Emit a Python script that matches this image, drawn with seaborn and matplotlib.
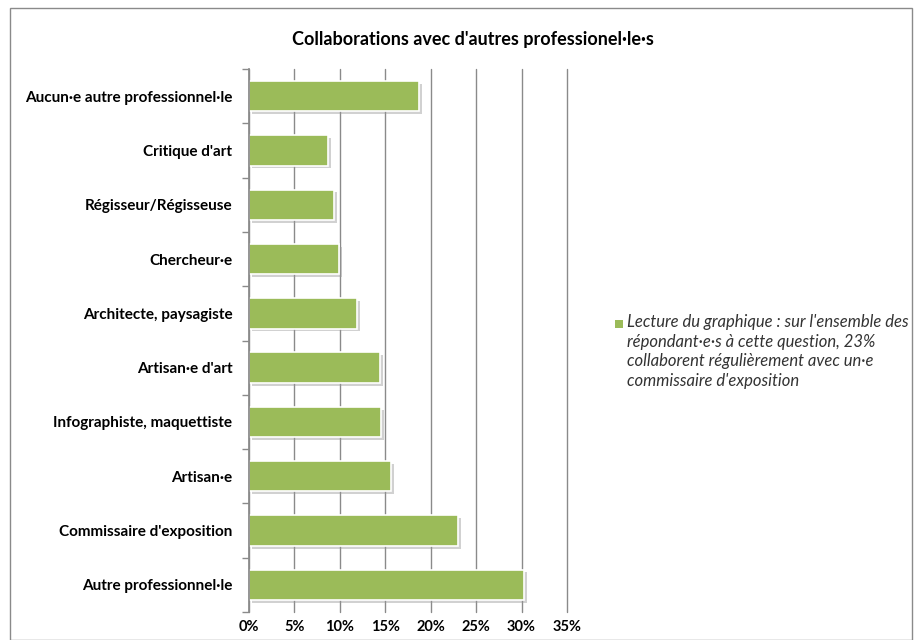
import matplotlib
matplotlib.use("Agg")
import matplotlib.pyplot as plt
import matplotlib.patheffects as pe
from matplotlib.patches import Rectangle
from matplotlib.ticker import FuncFormatter, MultipleLocator
import seaborn as sns
import pandas as pd
import numpy as np

categories = [
    "Aucun·e autre professionnel·le",
    "Critique d'art",
    "Régisseur/Régisseuse",
    "Chercheur·e",
    "Architecte, paysagiste",
    "Artisan·e d'art",
    "Infographiste, maquettiste",
    "Artisan·e",
    "Commissaire d'exposition",
    "Autre professionnel·le",
]
values = [18.7, 8.7, 9.4, 9.9, 11.9, 14.4, 14.5, 15.6, 23.0, 30.3]
title = "Collaborations avec d'autres professionel·le·s"
legend_text = ("Lecture du graphique : sur l'ensemble des\n"
               "répondant·e·s à cette question, 23%\n"
               "collaborent régulièrement avec un·e\n"
               "commissaire d'exposition")

df = pd.DataFrame({"cat": categories, "val": values})

sns.set_theme(style="white")
plt.rcParams["font.family"] = ["Lato", "DejaVu Sans"]

fig = plt.figure(figsize=(9.21, 6.4), dpi=100)
ax = fig.add_axes([249/921, 1 - 612/640, (567-249)/921, (612-69)/640])

green = "#9BBB59"
sns.barplot(data=df, x="val", y="cat", order=categories, color=green,
            width=0.56, ax=ax, saturation=1, edgecolor="white", linewidth=1.2)
for p in ax.patches:
    p.set_path_effects([pe.SimplePatchShadow(offset=(2, -2), shadow_rgbFace="#999999", alpha=0.45),
                        pe.Normal()])

ax.set_xlim(0, 35)
ax.set_ylim(len(categories) - 0.5, -0.5)
ax.xaxis.set_major_locator(MultipleLocator(5))
ax.xaxis.set_major_formatter(FuncFormatter(lambda v, p: f"{int(v)}%"))
ax.grid(axis="x", color="#8a8a8a", linewidth=1)
for gl in ax.get_xgridlines():
    gl.set_clip_on(False)
ax.set_axisbelow(True)
ax.set_xlabel("")
ax.set_ylabel("")
for s in ["top", "right", "bottom"]:
    ax.spines[s].set_visible(False)
ax.spines["left"].set_color("#8a8a8a")
ax.tick_params(axis="y", length=0, pad=12, labelsize=11)
ax.tick_params(axis="x", length=0, pad=6, labelsize=10.5)
ax.set_yticks(np.arange(-1, len(categories)) + 0.5, minor=True)
ax.set_yticks(list(range(len(categories))), minor=False)
ax.set_yticklabels(categories, fontweight="bold", color="black")
ax.tick_params(axis="y", which="minor", length=5, color="#8a8a8a", left=True)
for lbl in ax.get_xticklabels():
    lbl.set_fontweight("bold")
    lbl.set_color("black")

fig.text(473/921, 1 - 40/640, title, ha="center", va="center",
         fontsize=13, fontweight="bold", color="black")

# legend: green square + italic text
fig.patches.append(Rectangle((615/921, 1 - 328/640), 8/921, 8/640, transform=fig.transFigure,
                             facecolor=green, edgecolor="none"))
fig.text(627/921, 1 - 314/640, legend_text, ha="left", va="top", fontsize=12,
         style="italic", color="#333333", linespacing=1.28)

fig.patches.append(Rectangle((10/921, 0), 902/921, 1 - 8/640, transform=fig.transFigure,
                             fill=False, edgecolor="#8a8a8a", linewidth=1))

fig.savefig("out.png", dpi=100)
